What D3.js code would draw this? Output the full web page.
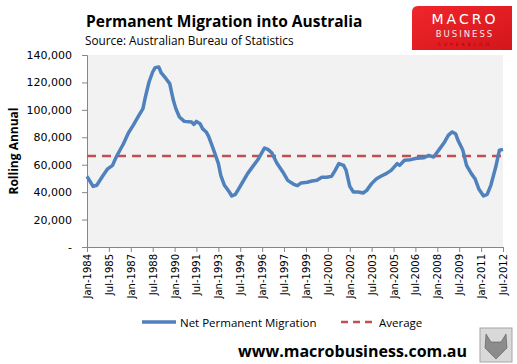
<!DOCTYPE html>
<html>
<head>
<meta charset="utf-8">
<script src="https://cdn.jsdelivr.net/npm/d3@7"></script>
<style>
  body { margin: 0; background: #fff; }
  svg { display: block; }
</style>
</head>
<body>
<div id="chart"></div>
<script>
// data (rolling annual net permanent migration)
var months = ["1984-01","1984-06","1984-09","1985-02","1985-06","1985-10","1986-01","1986-07","1986-11",
  "1987-03","1987-07","1987-11","1988-01","1988-04","1988-07","1988-09","1988-12","1989-02","1989-06",
  "1989-09","1989-12","1990-02","1990-05","1990-09","1991-03","1991-05","1991-07","1991-10","1991-12",
  "1992-03","1992-05","1992-09","1993-01","1993-03","1993-06","1993-10","1993-12","1994-03","1994-05",
  "1994-09","1995-01","1995-06","1995-10","1996-03","1996-06","1996-09","1997-01","1997-06","1997-10",
  "1998-03","1998-06","1998-09","1999-02","1999-06","1999-10","2000-02","2000-06","2000-10","2001-01",
  "2001-04","2001-08","2001-10","2002-01","2002-04","2002-08","2002-12","2003-03","2003-07","2003-11",
  "2004-03","2004-07","2004-11","2005-04","2005-06","2005-10","2006-03","2006-08","2007-02","2007-06",
  "2007-10","2008-01","2008-05","2008-07","2008-10","2009-01","2009-04","2009-06","2009-10","2010-01",
  "2010-05","2010-08","2010-11","2011-03","2011-06","2011-09","2012-01","2012-04","2012-07"];
var migration = [51500,44200,45000,52000,57000,59500,65600,75300,83100,
  88700,94800,100900,109400,120300,127600,130800,131300,126900,122700,
  119100,107000,100900,94800,91600,91100,89400,91600,89900,86300,
  83900,80700,71000,60800,52300,45000,40100,37200,38400,41300,
  47400,53500,59500,64400,72200,71000,68500,61300,54700,48600,
  45700,44700,46700,47200,48100,48600,50800,50800,51500,55900,
  60800,59500,55900,44200,40100,40100,39400,41300,46200,49800,
  51800,53500,55900,60800,59500,63200,63700,64700,65100,66800,
  65600,69300,74100,76600,81400,83900,82600,77800,70500,59500,
  53500,49800,42500,37200,38400,45000,58300,70500,71200];
var average = 66400;
var yTicks = [0,20000,40000,60000,80000,100000,120000,140000];
var xTickLabels = ["Jan-1984","Jul-1985","Jan-1987","Jul-1988","Jan-1990","Jul-1991","Jan-1993","Jul-1994",
  "Jan-1996","Jul-1997","Jan-1999","Jul-2000","Jan-2002","Jul-2003","Jan-2005","Jul-2006","Jan-2008",
  "Jul-2009","Jan-2011","Jul-2012"];

var parseMonth = d3.timeParse("%Y-%m");
var parseTick = d3.timeParse("%b-%Y");
var data = months.map(function(m, i) { return {date: parseMonth(m), value: migration[i]}; });

var W = 517, H = 364;
var margin = {top: 55, right: 14, bottom: 117, left: 87};
var width = W - margin.left - margin.right,
    height = H - margin.top - margin.bottom;

var svg = d3.select("#chart").append("svg")
    .attr("width", W)
    .attr("height", H);

var font = "'Open Sans', sans-serif";
var tickFont = "Verdana, 'DejaVu Sans', sans-serif";

// title + source
svg.append("text")
    .attr("x", 86).attr("y", 27)
    .style("font-family", font).style("font-weight", "bold").style("font-size", "15.5px")
    .style("fill", "#000")
    .text("Permanent Migration into Australia");
svg.append("text")
    .attr("x", 85).attr("y", 45)
    .style("font-family", font).style("font-size", "11.8px")
    .style("fill", "#000")
    .text("Source:  Australian Bureau of Statistics");

// logo box
var defs = svg.append("defs");
var grad = defs.append("linearGradient").attr("id", "logoGrad")
    .attr("x1", "0").attr("y1", "0").attr("x2", "1").attr("y2", "1");
grad.append("stop").attr("offset", "0%").attr("stop-color", "#f0262b");
grad.append("stop").attr("offset", "100%").attr("stop-color", "#d4161c");
var logo = svg.append("g").attr("transform", "translate(412,6)");
logo.append("path")
    .attr("d", "M6,0 H100 V44 H0 V6 Q0,0 6,0 Z")
    .attr("fill", "url(#logoGrad)");
logo.append("text").attr("x", 53).attr("y", 18).attr("text-anchor", "middle")
    .style("font-family", "'DejaVu Sans', sans-serif").style("font-size", "14px")
    .style("letter-spacing", "3px").style("fill", "#fff").text("MACRO");
logo.append("text").attr("x", 53).attr("y", 31).attr("text-anchor", "middle")
    .style("font-family", "'DejaVu Sans', sans-serif").style("font-size", "8.5px")
    .style("letter-spacing", "2px").style("fill", "#fff").style("opacity", 0.9).text("BUSINESS");
logo.append("text").attr("x", 53).attr("y", 40).attr("text-anchor", "middle")
    .style("font-family", "'DejaVu Sans', sans-serif").style("font-size", "4.5px")
    .style("letter-spacing", "3px").style("fill", "#a00").text("SUPERBLOG");

var g = svg.append("g")
    .attr("transform", "translate(" + margin.left + "," + margin.top + ")");

// scales
var x = d3.scaleTime()
    .domain([parseMonth("1984-01"), parseMonth("2012-07")])
    .range([0, width]);
var y = d3.scaleLinear().domain([0, 140000]).range([height, 0]);

// plot background
g.append("rect")
    .attr("width", width).attr("height", height)
    .attr("fill", "#f2f2f2");

// axes
var yAxis = d3.axisLeft(y).tickValues(yTicks).tickSize(5).tickPadding(10)
    .tickFormat(function(d) { return d === 0 ? "-" : d3.format(",")(d); });
var yAxisEl = g.append("g").call(yAxis);

var xAxis = d3.axisBottom(x)
    .tickValues(xTickLabels.map(parseTick))
    .tickSize(5)
    .tickFormat(d3.timeFormat("%b-%Y"));
var xAxisEl = g.append("g")
    .attr("transform", "translate(0," + height + ")")
    .call(xAxis);

[yAxisEl, xAxisEl].forEach(function(a) {
  a.select(".domain").attr("stroke", "#868686");
  a.selectAll(".tick line").attr("stroke", "#868686");
  a.selectAll("text").style("font-family", tickFont).style("fill", "#000");
});
yAxisEl.selectAll("text").style("font-size", "11px");
xAxisEl.selectAll("text")
    .style("font-size", "10px")
    .attr("text-anchor", "end")
    .attr("transform", "rotate(-90)")
    .attr("x", -7).attr("y", 0).attr("dy", "0.35em");

// axis title
svg.append("text")
    .attr("transform", "translate(18,151) rotate(-90)")
    .attr("text-anchor", "middle")
    .style("font-family", font).style("font-weight", "bold").style("font-size", "12px")
    .text("Rolling Annual");

// average line
g.append("line")
    .attr("x1", 0).attr("x2", width)
    .attr("y1", y(average)).attr("y2", y(average))
    .attr("stroke", "#c0504d").attr("stroke-width", 2.5)
    .attr("stroke-dasharray", "9,6");

// data line
var line = d3.line()
    .x(function(d) { return x(d.date); })
    .y(function(d) { return y(d.value); });
g.append("path").datum(data)
    .attr("d", line)
    .attr("fill", "none")
    .attr("stroke", "#4f81bd")
    .attr("stroke-width", 3.5)
    .attr("stroke-linejoin", "round");

// legend
var legend = svg.append("g").attr("transform", "translate(0,322)");
legend.append("line").attr("x1", 142).attr("x2", 176).attr("y1", 0).attr("y2", 0)
    .attr("stroke", "#4f81bd").attr("stroke-width", 3.5);
legend.append("text").attr("x", 180).attr("y", 4.5)
    .style("font-family", font).style("font-size", "11.5px").text("Net Permanent Migration");
legend.append("line").attr("x1", 341).attr("x2", 375).attr("y1", 0).attr("y2", 0)
    .attr("stroke", "#c0504d").attr("stroke-width", 2.5).attr("stroke-dasharray", "7,5");
legend.append("text").attr("x", 379).attr("y", 4.5)
    .style("font-family", font).style("font-size", "11.5px").text("Average");

// footer
svg.append("text")
    .attr("x", 467).attr("y", 357).attr("text-anchor", "end")
    .style("font-family", font).style("font-weight", "bold").style("font-size", "16px")
    .text("www.macrobusiness.com.au");

// wolf badge placeholder
var badge = svg.append("g").attr("transform", "translate(480,328)");
badge.append("rect").attr("width", 32).attr("height", 34)
    .attr("fill", "#d9d9d9").attr("stroke", "#a6a6a6");
badge.append("path")
    .attr("d", "M6,6 L11,14 L21,14 L26,6 L27,20 L16,31 L5,20 Z")
    .attr("fill", "#8c8c8c").attr("stroke", "#595959").attr("stroke-width", 0.6);
</script>
</body>
</html>
